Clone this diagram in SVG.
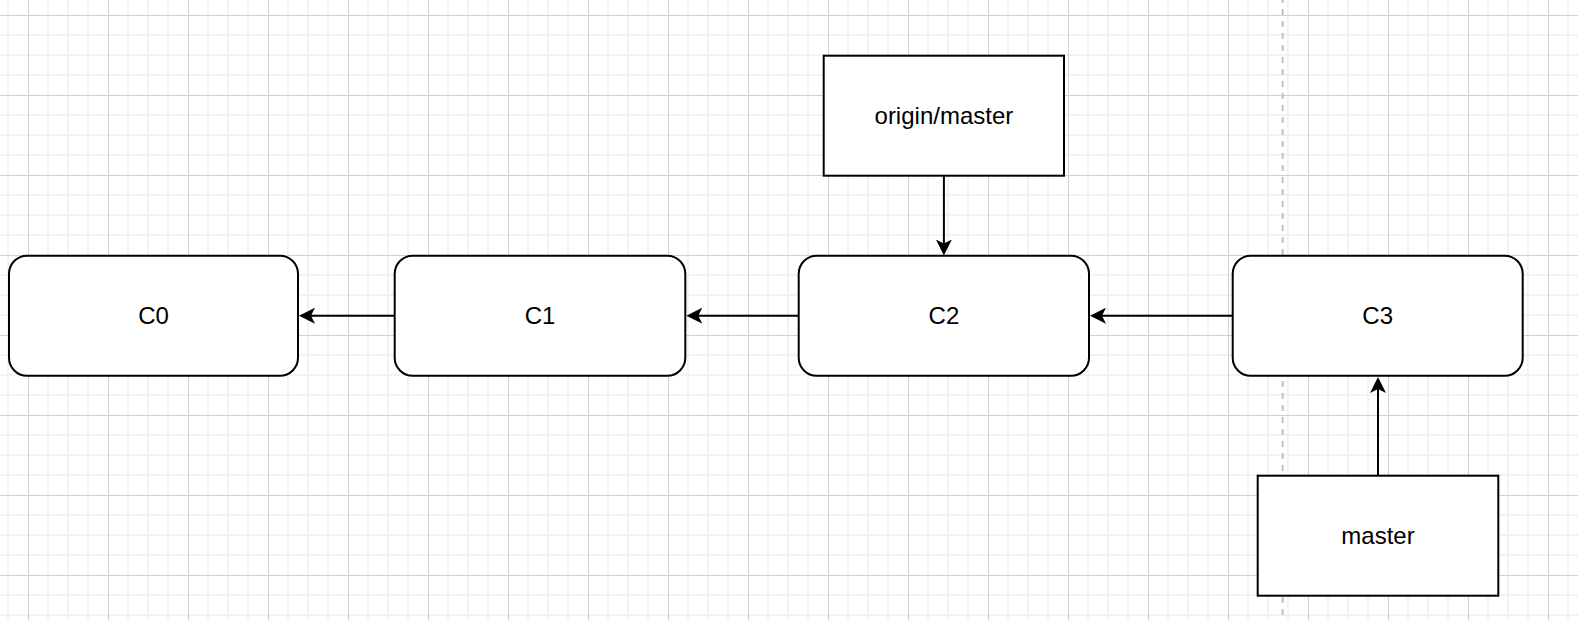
<svg xmlns="http://www.w3.org/2000/svg" width="1578" height="620" viewBox="0 0 1578 620">
  <defs>
    <pattern id="grid" x="28" y="15" width="80" height="80" patternUnits="userSpaceOnUse">
      <rect x="19" y="0" width="2" height="80" fill="#f2f2f2"/>
      <rect x="39" y="0" width="2" height="80" fill="#f2f2f2"/>
      <rect x="59" y="0" width="2" height="80" fill="#f2f2f2"/>
      <rect x="0" y="19" width="80" height="2" fill="#f2f2f2"/>
      <rect x="0" y="39" width="80" height="2" fill="#f2f2f2"/>
      <rect x="0" y="59" width="80" height="2" fill="#f2f2f2"/>
      <rect x="0" y="0" width="1" height="80" fill="#d0d0d0"/>
      <rect x="0" y="0" width="80" height="1" fill="#d0d0d0"/>
    </pattern>
    <marker id="arrow" markerUnits="userSpaceOnUse" viewBox="0 0 16 16" markerWidth="16" markerHeight="16" refX="6" refY="8" orient="auto">
      <path d="M16,8 L0,0 L4,8 L0,16 Z" fill="#000"/>
    </marker>
  </defs>
  <style>
    .box { fill: #ffffff; stroke: #000000; stroke-width: 2; }
    .lbl { font-family: "Liberation Sans", Arial, Helvetica, sans-serif; font-size: 24px; fill: #000; text-anchor: middle; }
    .edge { fill: none; stroke: #000; stroke-width: 2; marker-end: url(#arrow); }
  </style>
  <rect x="0" y="0" width="1578" height="620" fill="#ffffff"/>
  <rect x="0" y="0" width="1578" height="620" fill="url(#grid)"/>
  <line x1="1282.7" y1="0" x2="1282.7" y2="620" stroke="#c0c0c0" stroke-width="2" stroke-dasharray="6 6" stroke-dashoffset="-9"/>

  <g id="connectors">
    <line class="edge" x1="394.7" y1="315.7" x2="309" y2="315.7"/>
    <line class="edge" x1="798.7" y1="315.7" x2="696.3" y2="315.7"/>
    <line class="edge" x1="1232.7" y1="315.7" x2="1100" y2="315.7"/>
    <line class="edge" x1="943.9" y1="175.7" x2="943.9" y2="245.5"/>
    <line class="edge" x1="1378" y1="475.7" x2="1378" y2="387"/>
  </g>

  <g id="C0">
    <rect class="box" x="9" y="255.7" width="289" height="120" rx="18" ry="18"/>
    <text class="lbl" x="153.5" y="324.2">C0</text>
  </g>
  <g id="C1">
    <rect class="box" x="394.7" y="255.7" width="290.6" height="120" rx="18" ry="18"/>
    <text class="lbl" x="540" y="324.2">C1</text>
  </g>
  <g id="C2">
    <rect class="box" x="798.7" y="255.7" width="290.3" height="120" rx="18" ry="18"/>
    <text class="lbl" x="943.9" y="324.2">C2</text>
  </g>
  <g id="C3">
    <rect class="box" x="1232.7" y="255.7" width="290" height="120" rx="18" ry="18"/>
    <text class="lbl" x="1377.7" y="324.2">C3</text>
  </g>
  <g id="origin-master">
    <rect class="box" x="823.7" y="55.7" width="240.3" height="120"/>
    <text class="lbl" x="943.9" y="124">origin/master</text>
  </g>
  <g id="master">
    <rect class="box" x="1257.7" y="475.7" width="240.6" height="120"/>
    <text class="lbl" x="1378" y="544">master</text>
  </g>
</svg>
